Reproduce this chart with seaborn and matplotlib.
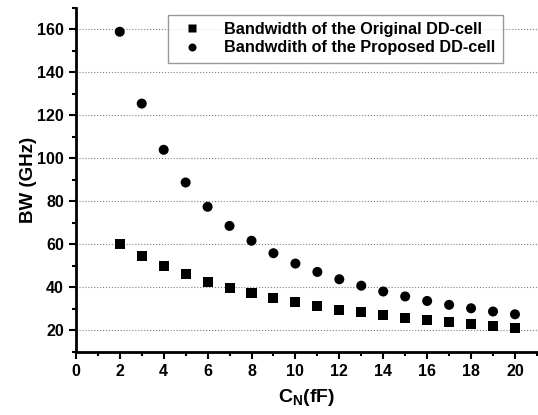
import pandas as pd
import matplotlib
matplotlib.use("Agg")
import matplotlib.pyplot as plt
import seaborn as sns
from matplotlib.ticker import MultipleLocator

# data
cn = [2, 3, 4, 5, 6, 7, 8, 9, 10, 11, 12, 13, 14, 15, 16, 17, 18, 19, 20]
bw_original = [60, 54.5, 50, 46.1, 42.6, 39.8, 37.3, 35.1, 33.1, 31.3, 29.7,
               28.4, 27, 26, 24.8, 23.9, 22.8, 22, 21.1]
bw_proposed = [158.9, 125.5, 104, 88.8, 77.5, 68.6, 61.7, 55.9, 51.1, 47.2,
               43.8, 40.8, 38.1, 35.8, 33.7, 31.9, 30.3, 28.8, 27.5]
labels = ["Bandwidth of the Original DD-cell", "Bandwdith of the Proposed DD-cell"]

df = pd.concat([
    pd.DataFrame({"CN": cn, "BW": bw_original, "series": labels[0]}),
    pd.DataFrame({"CN": cn, "BW": bw_proposed, "series": labels[1]}),
])

sns.set_style("ticks")
plt.rcParams['font.family'] = ['Liberation Sans', 'DejaVu Sans']
plt.rcParams['font.weight'] = 'bold'
plt.rcParams['mathtext.fontset'] = 'custom'
plt.rcParams['mathtext.rm'] = 'Liberation Sans:bold'
plt.rcParams['mathtext.bf'] = 'Liberation Sans:bold'
plt.rcParams['mathtext.it'] = 'Liberation Sans:bold'
for key in ['text.color', 'axes.labelcolor', 'xtick.color', 'ytick.color', 'axes.edgecolor']:
    plt.rcParams[key] = 'black'

fig = plt.figure(figsize=(5.38, 4.15), dpi=100)
ax = fig.add_axes([0.141, 0.152, 0.857, 0.829])

sns.scatterplot(data=df, x="CN", y="BW", hue="series", style="series",
                palette=["black", "black"], markers={labels[0]: "s", labels[1]: "o"},
                s=52, edgecolor="none", ax=ax, zorder=3)

ax.set_xlim(0, 21)
ax.set_ylim(10, 170)
ax.xaxis.set_major_locator(MultipleLocator(2))
ax.xaxis.set_minor_locator(MultipleLocator(1))
ax.yaxis.set_minor_locator(MultipleLocator(10))
ax.set_yticks(range(20, 161, 20))
ax.tick_params(which='major', length=5, width=1.5, labelsize=11.5)
ax.tick_params(which='minor', length=3, width=1.5)
ax.yaxis.grid(True, which='major', linestyle=':', color='gray', linewidth=0.8)
ax.set_axisbelow(True)

for side in ['top', 'right']:
    ax.spines[side].set_visible(False)
for side in ['left', 'bottom']:
    ax.spines[side].set_linewidth(2)

ax.set_xlabel(r'C$_{\mathbf{N}}$(fF)', fontsize=14, fontweight='bold', labelpad=6)
ax.set_ylabel('BW (GHz)', fontsize=13.5, fontweight='bold', labelpad=0)

handles, _ = ax.get_legend_handles_labels()
leg = ax.legend(handles=handles, labels=labels, loc='upper left',
                bbox_to_anchor=(0.2, 0.98), borderaxespad=0, frameon=True,
                fancybox=False, fontsize=11.7, handletextpad=1.0, borderpad=0.45,
                labelspacing=0.2, markerscale=0.8)
leg.get_frame().set_edgecolor('gray')
leg.get_frame().set_linewidth(1)

plt.savefig("out.png", dpi=100)
